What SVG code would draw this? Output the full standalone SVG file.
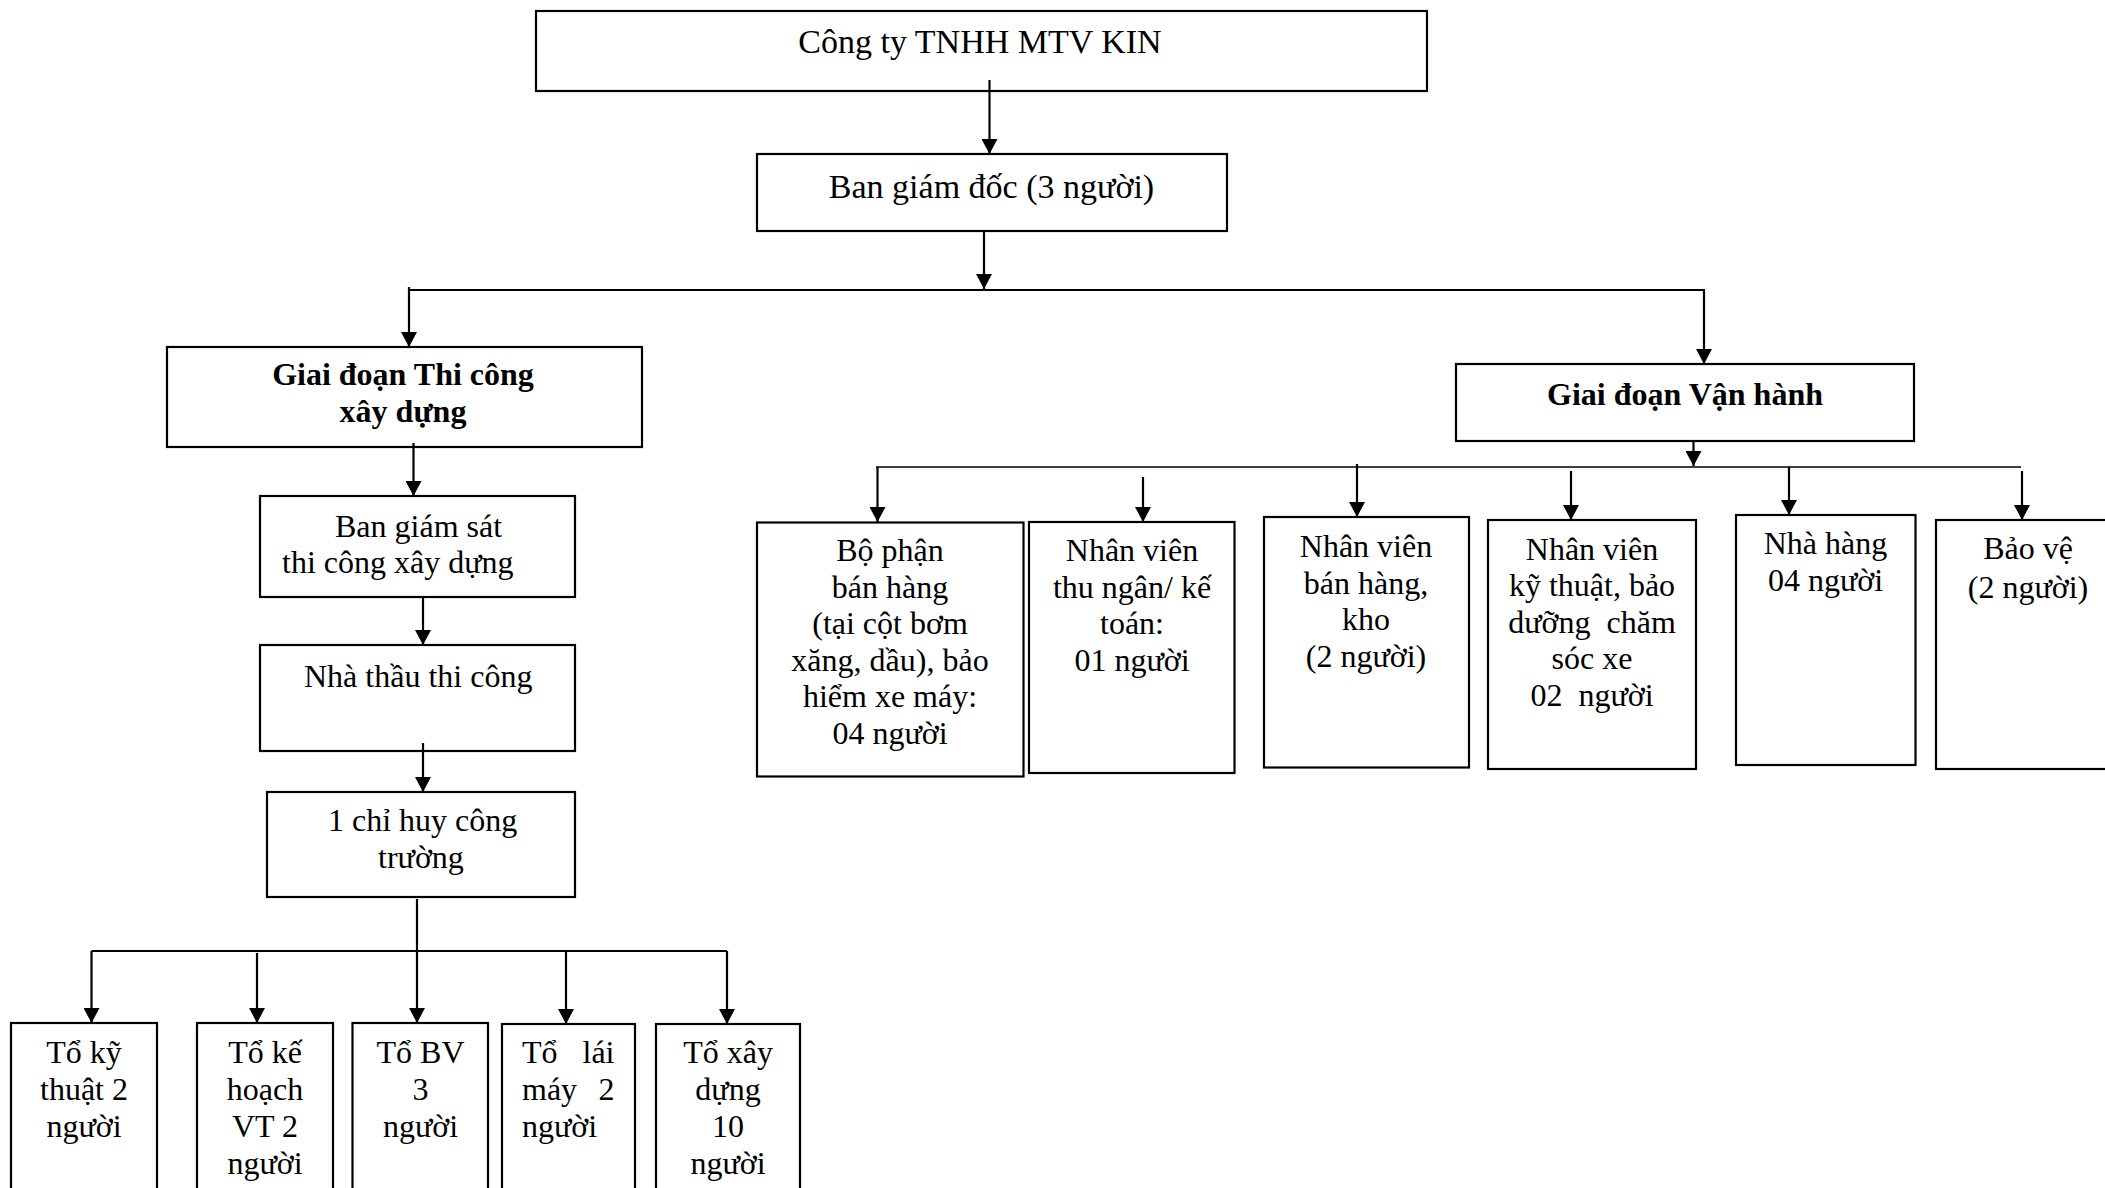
<svg xmlns="http://www.w3.org/2000/svg" width="2105" height="1188" viewBox="0 0 2105 1188">
<defs>
<marker id="arr" markerUnits="userSpaceOnUse" markerWidth="15" markerHeight="16" refX="15" refY="8" orient="auto" viewBox="0 0 15 16">
<path d="M0,0 L15,8 L0,16 z" fill="#000"/>
</marker>
<style>
.box{fill:#fff;stroke:#000;stroke-width:2.2}
.t{font-family:"Liberation Serif","Times New Roman",serif;font-size:32px;fill:#000;text-anchor:middle}
.tl{text-anchor:start}
.big{font-size:34px}
.b{font-weight:bold}
.ln{fill:none;stroke:#000;stroke-width:2}
.ar{fill:none;stroke:#000;stroke-width:2.2;marker-end:url(#arr)}
</style>
</defs>
<rect width="2105" height="1188" fill="#fff"/>

<g id="n-cty">
<rect class="box" x="536" y="11" width="891" height="80"/>
<text class="t big" x="980" y="53">Công ty TNHH MTV KIN</text>
</g>
<g id="n-bgd">
<rect class="box" x="757" y="154" width="470" height="77"/>
<text class="t big" x="991.5" y="197.5">Ban giám đốc (3 người)</text>
</g>
<g id="n-thicong">
<rect class="box" x="167" y="347" width="475" height="100"/>
<text class="t b" x="403"><tspan x="403" y="385">Giai đoạn Thi công</tspan><tspan x="403" y="422">xây dựng</tspan></text>
</g>
<g id="n-bgs">
<rect class="box" x="260" y="496" width="315" height="101"/>
<text class="t tl"><tspan x="335" y="537">Ban giám sát</tspan><tspan x="282" y="573">thi công xây dựng</tspan></text>
</g>
<g id="n-nhathau">
<rect class="box" x="260" y="645" width="315" height="106"/>
<text class="t tl" x="304" y="687">Nhà thầu thi công</text>
</g>
<g id="n-chihuy">
<rect class="box" x="267" y="792" width="308" height="105"/>
<text class="t tl"><tspan x="328" y="831">1 chỉ huy công</tspan><tspan x="378" y="868">trường</tspan></text>
</g>

<g id="n-to1">
<rect class="box" x="11" y="1023" width="146" height="190"/>
<text class="t"><tspan x="84" y="1063">Tổ kỹ</tspan><tspan x="84" y="1100">thuật 2</tspan><tspan x="84" y="1137">người</tspan></text>
</g>
<g id="n-to2">
<rect class="box" x="197" y="1023" width="136" height="190"/>
<text class="t"><tspan x="265" y="1063">Tổ kế</tspan><tspan x="265" y="1100">hoạch</tspan><tspan x="265" y="1137">VT 2</tspan><tspan x="265" y="1174">người</tspan></text>
</g>
<g id="n-to3">
<rect class="box" x="352.5" y="1023" width="135.5" height="190"/>
<text class="t"><tspan x="420.5" y="1063">Tổ BV</tspan><tspan x="420.5" y="1100">3</tspan><tspan x="420.5" y="1137">người</tspan></text>
</g>
<g id="n-to4">
<rect class="box" x="502" y="1024" width="133" height="190"/>
<text class="t tl"><tspan x="522" y="1063">Tổ</tspan><tspan x="614.5" y="1063" text-anchor="end">lái</tspan><tspan x="522" y="1100">máy</tspan><tspan x="614.5" y="1100" text-anchor="end">2</tspan><tspan x="522" y="1137">người</tspan></text>
</g>
<g id="n-to5">
<rect class="box" x="656" y="1024" width="144" height="190"/>
<text class="t"><tspan x="728" y="1063">Tổ xây</tspan><tspan x="728" y="1100">dựng</tspan><tspan x="728" y="1137">10</tspan><tspan x="728" y="1174">người</tspan></text>
</g>

<g id="n-vanhanh">
<rect class="box" x="1456" y="364" width="458" height="77"/>
<text class="t b" x="1685" y="405">Giai đoạn Vận hành</text>
</g>
<g id="n-banhang">
<rect class="box" x="757" y="522.5" width="266.5" height="254"/>
<text class="t"><tspan x="890" y="561">Bộ phận</tspan><tspan x="890" y="597.5">bán hàng</tspan><tspan x="890" y="634">(tại cột bơm</tspan><tspan x="890" y="670.5">xăng, dầu), bảo</tspan><tspan x="890" y="707">hiểm xe máy:</tspan><tspan x="890" y="743.5">04 người</tspan></text>
</g>
<g id="n-thungan">
<rect class="box" x="1029" y="522" width="205.5" height="251"/>
<text class="t"><tspan x="1132" y="561">Nhân viên</tspan><tspan x="1132" y="597.5">thu ngân/ kế</tspan><tspan x="1132" y="634">toán:</tspan><tspan x="1132" y="670.5">01 người</tspan></text>
</g>
<g id="n-kho">
<rect class="box" x="1264" y="517" width="205" height="250.5"/>
<text class="t"><tspan x="1366" y="557">Nhân viên</tspan><tspan x="1366" y="593.5">bán hàng,</tspan><tspan x="1366" y="630">kho</tspan><tspan x="1366" y="666.5">(2 người)</tspan></text>
</g>
<g id="n-kythuat">
<rect class="box" x="1488" y="520" width="208" height="249"/>
<text class="t" xml:space="preserve"><tspan x="1592" y="559.5">Nhân viên</tspan><tspan x="1592" y="596">kỹ thuật, bảo</tspan><tspan x="1592" y="632.5">dưỡng  chăm</tspan><tspan x="1592" y="669">sóc xe</tspan><tspan x="1592" y="706">02  người</tspan></text>
</g>
<g id="n-nhahang">
<rect class="box" x="1736" y="515" width="179.5" height="250"/>
<text class="t"><tspan x="1825.5" y="554">Nhà hàng</tspan><tspan x="1825.5" y="591">04 người</tspan></text>
</g>
<g id="n-baove">
<rect class="box" x="1936" y="520" width="200" height="249"/>
<text class="t"><tspan x="2028" y="559">Bảo vệ</tspan><tspan x="2028" y="598">(2 người)</tspan></text>
</g>

<g id="connectors">
<line class="ar" x1="989.5" y1="80" x2="989.5" y2="154"/>
<line class="ar" x1="984" y1="231" x2="984" y2="289"/>
<line class="ln" x1="409" y1="290" x2="1705" y2="290"/>
<line class="ar" x1="409" y1="287" x2="409" y2="347"/>
<line class="ar" x1="1704" y1="290" x2="1704" y2="364"/>
<line class="ar" x1="413.5" y1="443" x2="413.5" y2="496"/>
<line class="ar" x1="423" y1="597" x2="423" y2="645"/>
<line class="ar" x1="423" y1="743" x2="423" y2="792"/>
<line class="ar" x1="417" y1="899" x2="417" y2="1023"/>
<line class="ln" x1="91.5" y1="951" x2="727" y2="951"/>
<line class="ar" x1="91.5" y1="951" x2="91.5" y2="1023"/>
<line class="ar" x1="257" y1="953" x2="257" y2="1023"/>
<line class="ar" x1="566" y1="951" x2="566" y2="1024"/>
<line class="ar" x1="727" y1="951" x2="727" y2="1024"/>
<line class="ar" x1="1693.5" y1="441" x2="1693.5" y2="466"/>
<line class="ln" x1="876" y1="467" x2="2021" y2="467" style="stroke-width:1.6"/>
<line class="ar" x1="877.5" y1="467" x2="877.5" y2="522"/>
<line class="ar" x1="1143" y1="477" x2="1143" y2="522"/>
<line class="ar" x1="1357" y1="464" x2="1357" y2="517"/>
<line class="ar" x1="1571" y1="471" x2="1571" y2="520"/>
<line class="ar" x1="1789" y1="467" x2="1789" y2="515"/>
<line class="ar" x1="2022" y1="471" x2="2022" y2="520"/>
</g>
</svg>
